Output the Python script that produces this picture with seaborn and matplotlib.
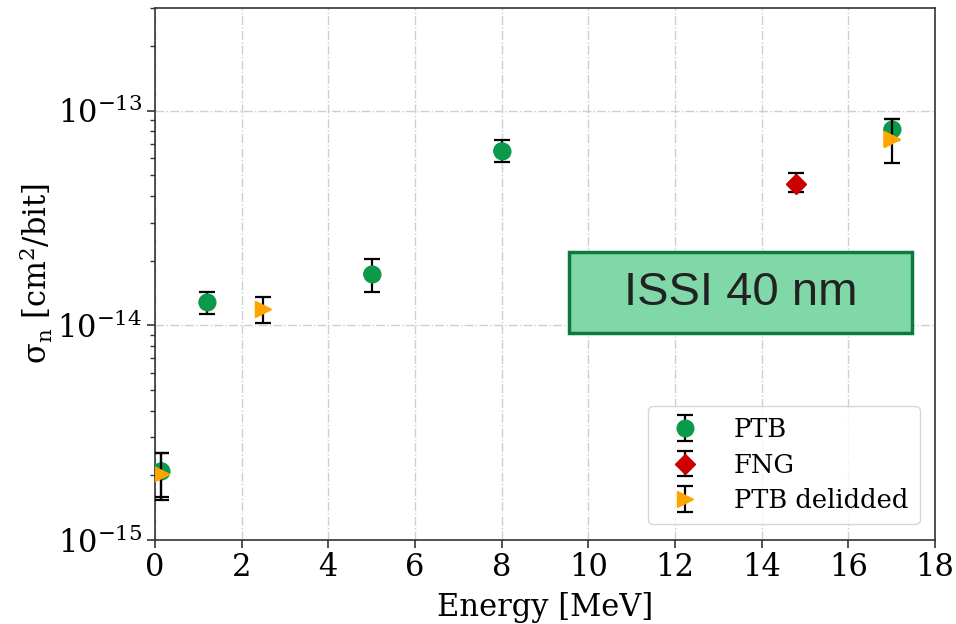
import numpy as np
import pandas as pd
import seaborn as sns
import matplotlib
matplotlib.use("Agg")
import matplotlib.pyplot as plt
from matplotlib.patches import Rectangle

# --- data ---
ptb_E = [0.15, 1.2, 5.0, 8.0, 17.0]
ptb_sigma = [2.1e-15, 1.28e-14, 1.73e-14, 6.5e-14, 8.16e-14]
ptb_lo = [1.58e-15, 1.125e-14, 1.42e-14, 5.73e-14, 7.3e-14]
ptb_hi = [2.55e-15, 1.43e-14, 2.03e-14, 7.25e-14, 9.15e-14]

fng_E = [14.8]
fng_sigma = [4.57e-14]
fng_lo = [4.16e-14]
fng_hi = [5.09e-14]

del_E = [0.15, 2.5, 17.0]
del_sigma = [2.03e-15, 1.187e-14, 7.33e-14]
del_lo = [1.53e-15, 1.02e-14, 5.67e-14]
del_hi = [2.55e-15, 1.35e-14, 9.1e-14]

series_labels = ["PTB", "FNG", "PTB delidded"]
x_ticks = [0, 2, 4, 6, 8, 10, 12, 14, 16, 18]

sns.set_style("white")
plt.rcParams["font.family"] = ["DejaVu Serif"]
plt.rcParams["mathtext.fontset"] = "dejavuserif"
plt.rcParams["text.color"] = "black"
plt.rcParams["axes.labelcolor"] = "black"
plt.rcParams["xtick.color"] = "black"
plt.rcParams["ytick.color"] = "black"

fig = plt.figure(figsize=(9.56, 6.24), dpi=100)
ax = fig.add_axes([0.162, 0.135, 0.816, 0.852])

styles = [
    (ptb_E, ptb_sigma, ptb_lo, ptb_hi, "o", "#0a9a4a", 12),
    (fng_E, fng_sigma, fng_lo, fng_hi, "D", "#cc0000", 10),
    (del_E, del_sigma, del_lo, del_hi, ">", "#ffa500", 12),
]

for i, (xs, ys, lo, hi, mk, col, ms) in enumerate(styles):
    ys_a = np.array(ys)
    yerr = [ys_a - np.array(lo), np.array(hi) - ys_a]
    ax.errorbar(xs, ys, yerr=yerr, fmt=mk, color=col, ms=ms, ecolor="black",
                elinewidth=1.6, capsize=6, capthick=1.6, label=series_labels[i],
                zorder=3 + i)
    df = pd.DataFrame({"E": xs, "s": ys})
    sns.scatterplot(data=df, x="E", y="s", marker=mk, color=col, s=ms ** 2,
                    edgecolor="none", linewidth=0, legend=False, ax=ax, zorder=3.5 + i)

ax.set_yscale("log")
ax.set_xlim(0, 18)
ax.set_ylim(1e-15, 3e-13)
ax.set_xticks(x_ticks)
ax.tick_params(axis="both", which="major", labelsize=22, length=6, width=1.2,
               direction="out", color="#333333", left=True, bottom=True, pad=3)
ax.tick_params(axis="y", which="minor", length=3.5, width=1, color="#333333", left=True)
ax.tick_params(axis="x", which="minor", bottom=False)
ax.grid(True, which="major", linestyle="-.", color="#cfcfcf", linewidth=1)
ax.set_axisbelow(True)
for sp in ax.spines.values():
    sp.set_color("#333333")
    sp.set_linewidth(1.2)

ax.set_xlabel("Energy [MeV]", fontsize=22, labelpad=6)
ax.set_ylabel(r"$\mathrm{\sigma_n\ [cm^2/bit]}$", fontsize=22, labelpad=2)

leg = ax.legend(loc="lower right", fontsize=18.5, frameon=True, fancybox=True,
                borderpad=0.45, handletextpad=0.9, labelspacing=0.4,
                borderaxespad=0.6)
leg.get_frame().set_edgecolor("#cccccc")

rect = Rectangle((0.595, 0.466), 0.359, 0.130, transform=fig.transFigure,
                 facecolor="#80d8a8", edgecolor="#0b7a3c", linewidth=2.5, zorder=10)
fig.patches.append(rect)
fig.text(0.595 + 0.359 / 2, 0.466 + 0.130 / 2, "ISSI 40 nm", fontsize=34,
         family=["Liberation Sans", "DejaVu Sans"], color="#222222",
         ha="center", va="center", zorder=11)

fig.savefig("out.png", dpi=100)
